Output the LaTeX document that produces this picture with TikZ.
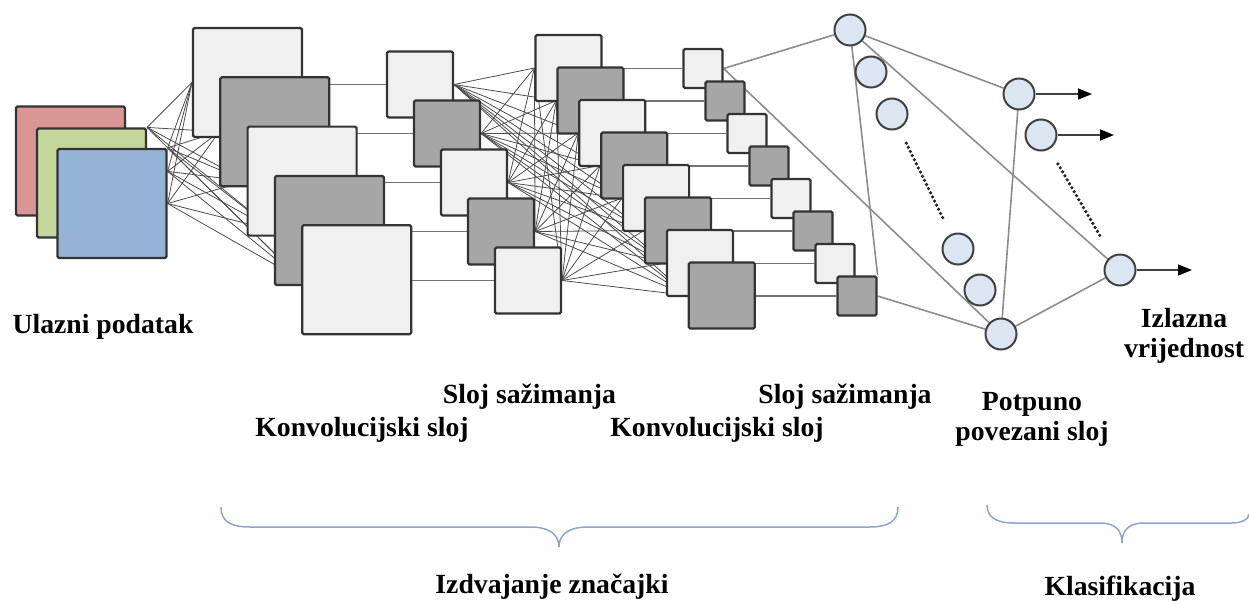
\documentclass[tikz,border=0pt]{standalone}
\usepackage{fontspec}
\setmainfont{Liberation Serif}[BoldFont={Liberation Serif Bold}]
\usepackage{tikz}
\usetikzlibrary{positioning}
\usetikzlibrary{shapes.geometric, arrows.meta, positioning, backgrounds}
\tikzstyle{arrow} = [line width=1.5pt, draw=black!75, -{Triangle[length=14pt,width=11pt,color=black]}]

\definecolor{inred}{HTML}{D99694}
\definecolor{ingreen}{HTML}{C3D69B}
\definecolor{inblue}{HTML}{95B3D7}
\definecolor{fmlight}{HTML}{F0F0F0}
\definecolor{fmdark}{HTML}{A6A6A6}
\definecolor{unitfill}{HTML}{DCE6F2}
\definecolor{bracecol}{HTML}{8EA4CC}

\begin{document}
\begin{tikzpicture}[
  x=1pt, y=-1pt,
  fmap/.style={rectangle, draw=black!80, line width=2.2pt, rounded corners=1.5pt, inner sep=0pt},
  bigsq/.style={fmap, minimum size=109pt},
  midsq/.style={fmap, minimum size=66pt},
  smallsq/.style={fmap, minimum size=39pt},
  lightfm/.style={fill=fmlight},
  darkfm/.style={fill=fmdark},
  unit/.style={circle, draw=black!75, line width=2pt, fill=unitfill, minimum size=31pt, inner sep=0pt},
  link/.style={draw=black!70, line width=0.8pt},
  hline/.style={draw=black!55, line width=1.3pt},
  fcline/.style={draw=black!45, line width=1.6pt},
  dotline/.style={line width=3.6pt, dash pattern=on 0pt off 4.6pt, line cap=round, draw=black!85},
  lbl/.style={font=\fontsize{27.7}{30}\selectfont\bfseries, inner sep=0pt, align=center},
  bracepath/.style={draw=bracecol, line width=1.5pt}
]
\useasboundingbox (0,0) rectangle (1249,600);

\node[bigsq, fill=inred] (R) at (70.5,161) {};
\node[bigsq, fill=ingreen] (G) at (91.5,183) {};
\node[bigsq, fill=inblue] (B) at (112,203.5) {};

\node[bigsq, lightfm] (Ca1) at (247.5,82.5) {};
\node[bigsq, darkfm] (Ca2) at (274.8,131.8) {};
\node[bigsq, lightfm] (Ca3) at (302.1,181.1) {};
\node[bigsq, darkfm] (Ca4) at (329.4,230.4) {};
\node[bigsq, lightfm] (Ca5) at (356.7,279.7) {};

\node[midsq, lightfm] (Sa1) at (420,84.5) {};
\node[midsq, darkfm] (Sa2) at (447,133.5) {};
\node[midsq, lightfm] (Sa3) at (474,182.5) {};
\node[midsq, darkfm] (Sa4) at (501,231.5) {};
\node[midsq, lightfm] (Sa5) at (528,280.5) {};

\node[midsq, lightfm] (Cb1) at (568.5,68) {};
\node[midsq, darkfm] (Cb2) at (590.4,100.5) {};
\node[midsq, lightfm] (Cb3) at (612.3,133) {};
\node[midsq, darkfm] (Cb4) at (634.2,165.5) {};
\node[midsq, lightfm] (Cb5) at (656.1,198) {};
\node[midsq, darkfm] (Cb6) at (678,230.5) {};
\node[midsq, lightfm] (Cb7) at (699.9,263) {};
\node[midsq, darkfm] (Cb8) at (721.8,295.5) {};

\node[smallsq, lightfm] (Sb1) at (703,68.5) {};
\node[smallsq, darkfm] (Sb2) at (725,101) {};
\node[smallsq, lightfm] (Sb3) at (747,133.5) {};
\node[smallsq, darkfm] (Sb4) at (769,166) {};
\node[smallsq, lightfm] (Sb5) at (791,198.5) {};
\node[smallsq, darkfm] (Sb6) at (813,231) {};
\node[smallsq, lightfm] (Sb7) at (835,263.5) {};
\node[smallsq, darkfm] (Sb8) at (857,296) {};

\node[unit] (F1) at (850,30) {};
\node[unit] (F2) at (871,72) {};
\node[unit] (F3) at (892,114) {};
\node[unit] (F4) at (958,249) {};
\node[unit] (F5) at (980,290) {};
\node[unit] (F6) at (1001,334) {};

\node[unit] (Y1) at (1019,94) {};
\node[unit] (Y2) at (1041,135) {};
\node[unit] (Y3) at (1120,270) {};
\coordinate (E1) at (1092,94);
\coordinate (E2) at (1114,135);
\coordinate (E3) at (1192,270);

\begin{scope}[on background layer]
\foreach \s in {G.north east, B.north east, B.30, B.east}
  \foreach \t in {1,...,5}
    \draw[link] (\s) -- (Ca\t.west);
\foreach \i in {1,...,5}
  \draw[hline] (Ca\i.center |- Sa\i.west) -- (Sa\i.west);
\foreach \i in {1,...,5}
  \foreach \j in {1,...,8}
    \draw[link] (Sa\i.east) -- (Cb\j.west);
\foreach \i in {1,...,8}
  \draw[hline] (Cb\i.center |- Sb\i.west) -- (Sb\i.west);
\draw[fcline] (Sb1.east) -- (F1);
\draw[fcline] (Sb1.east) -- (F6);
\draw[fcline] (Sb8.north east) -- (F1);
\draw[fcline] (Sb8.east) -- (F6);
\draw[fcline] (F1) -- (Y1);
\draw[fcline] (F1) -- (Y3);
\draw[fcline] (F6) -- (Y1);
\draw[fcline] (F6) -- (Y3);
\end{scope}

\draw[dotline, shorten <=16pt, shorten >=17pt] (F3) -- (F4);
\draw[dotline, shorten <=17pt, shorten >=23pt] (Y2) -- (Y3);

\draw[arrow] (Y1) -- (E1);
\draw[arrow] (Y2) -- (E2);
\draw[arrow] (Y3) -- (E3);

\node[lbl, anchor=base] (Lin) at (103,333) {Ulazni podatak};
\node[lbl, anchor=north] (Lout) at (1184,308) {Izlazna\\vrijednost};
\node[lbl, anchor=base] (Lsa) at (529.5,403) {Sloj sažimanja};
\node[lbl, anchor=base] (Lsb) at (845,403) {Sloj sažimanja};
\node[lbl, anchor=base] (Lca) at (362,436) {Konvolucijski sloj};
\node[lbl, anchor=base] (Lcb) at (717,436) {Konvolucijski sloj};
\node[lbl, anchor=north] (Lfc) at (1032,392) {Potpuno\\povezani sloj};
\node[lbl, anchor=base] (Lfeat) at (552,593) {Izdvajanje značajki};
\node[lbl, anchor=base] (Lcls) at (1120,595) {Klasifikacija};

\draw[bracepath] (221,507) .. controls (221,521) and (230,527) .. (250,527) -- (530,527)
  .. controls (550,527) and (559,535) .. (559,547)
  .. controls (559,535) and (568,527) .. (588,527) -- (869,527)
  .. controls (889,527) and (898,521) .. (898,507);
\draw[bracepath] (987,505) .. controls (987,517) and (996,523) .. (1014,523) -- (1100,523)
  .. controls (1116,523) and (1122,531) .. (1122,543)
  .. controls (1122,531) and (1128,523) .. (1144,523) -- (1232,523)
  .. controls (1242,523) and (1249,519) .. (1249,514);

\end{tikzpicture}
\end{document}
